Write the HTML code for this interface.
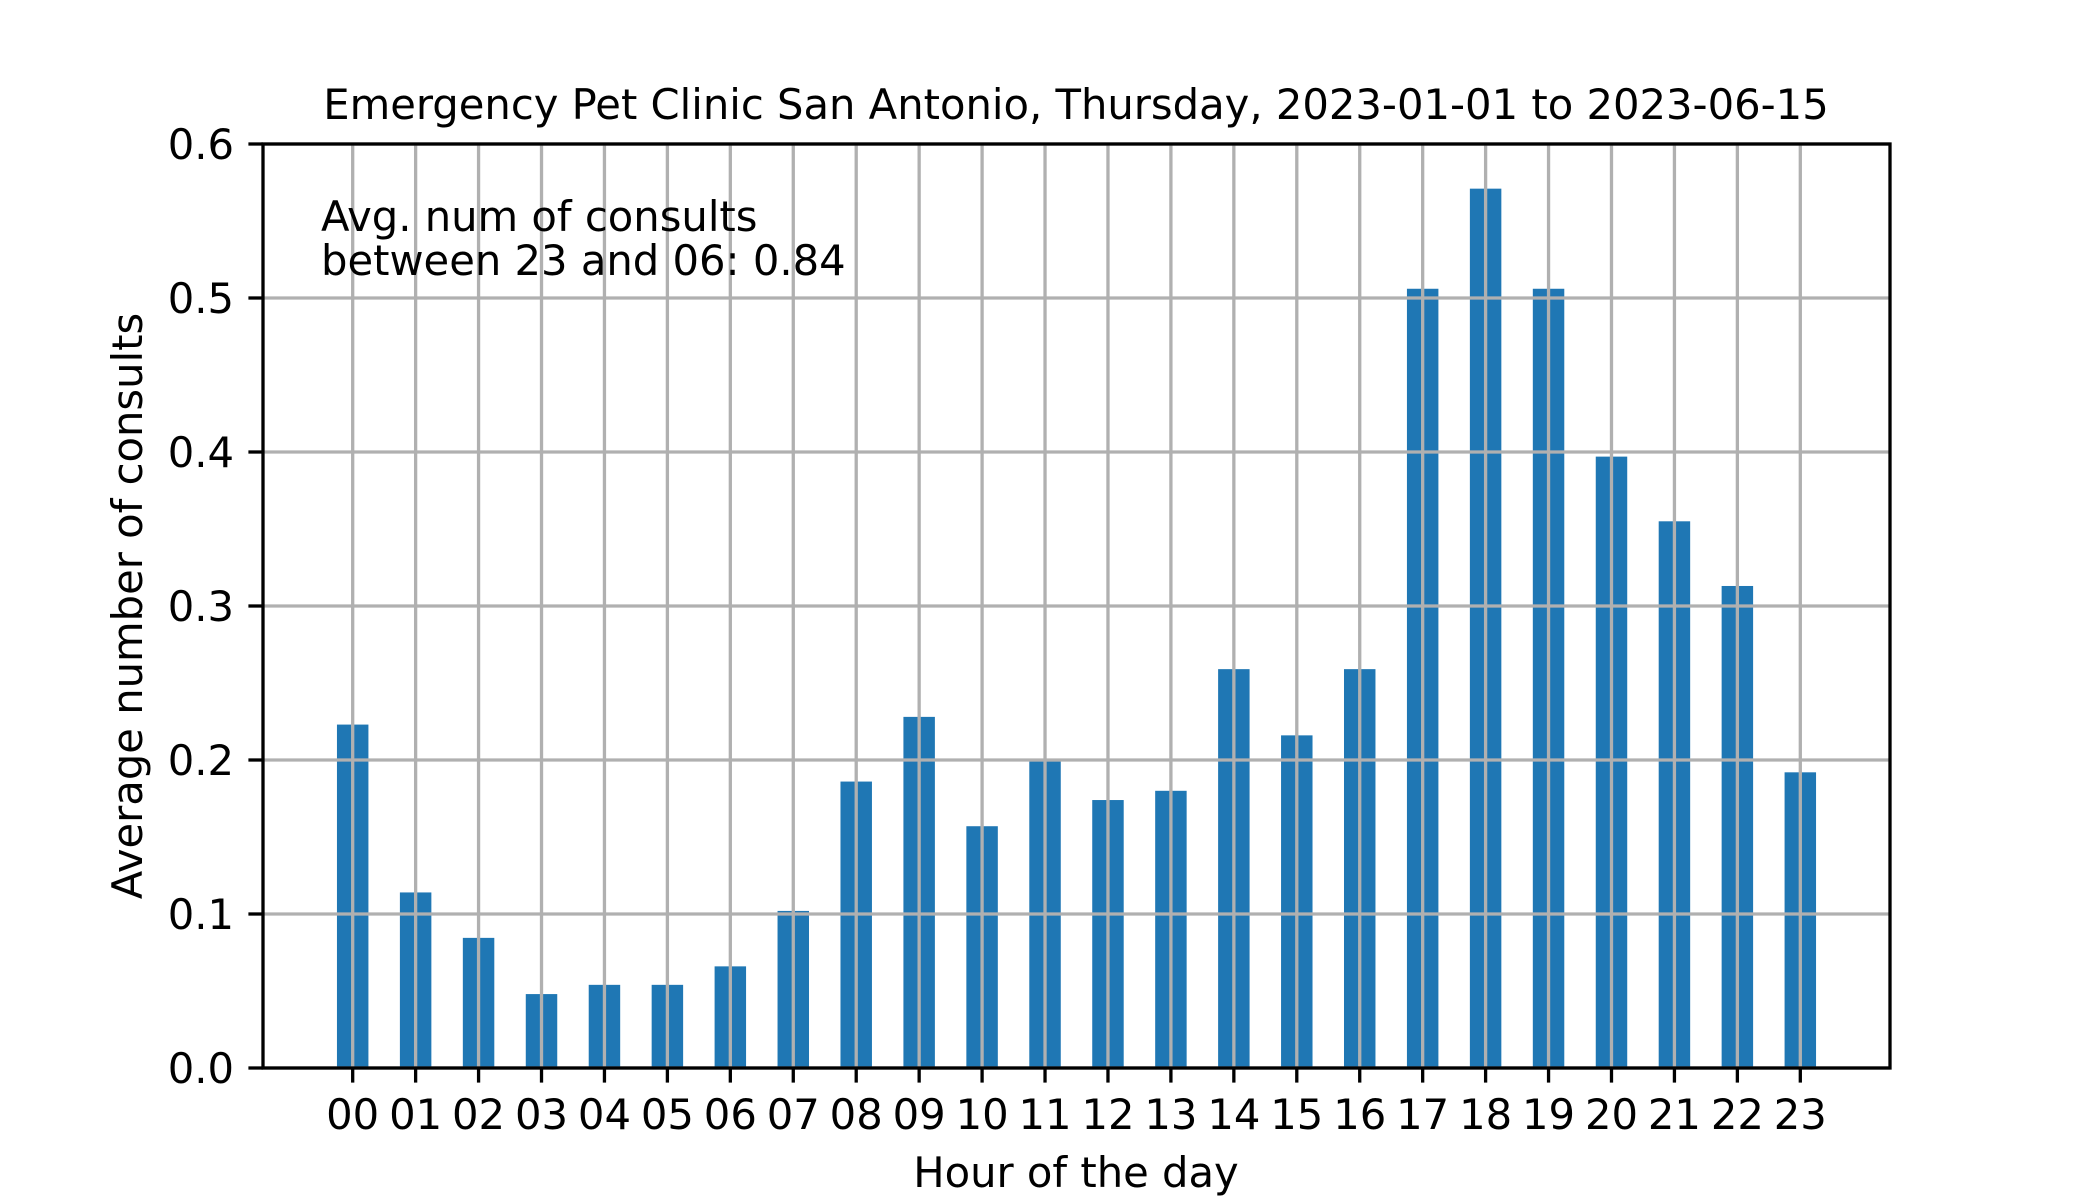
<!DOCTYPE html>
<html><head><meta charset="utf-8"><style>
html,body{margin:0;padding:0;background:#fff;}
svg{display:block;font-family:"DejaVu Sans","Liberation Sans",sans-serif;}
</style></head><body>
<svg id="chart" width="2100" height="1200" viewBox="0 0 2100 1200">
<text x="1076" y="119" font-size="41.7" text-anchor="middle">Emergency Pet Clinic San Antonio, Thursday, 2023-01-01 to 2023-06-15</text>
<g id="grid"></g>
<g id="bars"></g>
<g id="ticks"></g>
<rect x="263" y="144" width="1627" height="924" fill="none" stroke="#000" stroke-width="3.3"/>
<text x="321" y="231" font-size="41.7">Avg. num of consults</text>
<text x="321" y="275" font-size="41.7">between 23 and 06: 0.84</text>
<text x="1076" y="1187" font-size="41.7" text-anchor="middle">Hour of the day</text>
<text transform="translate(142,606) rotate(-90)" font-size="41.7" text-anchor="middle">Average number of consults</text>
</svg>
<script>
const categories=["00","01","02","03","04","05","06","07","08","09","10","11","12","13","14","15","16","17","18","19","20","21","22","23"];
const values=[0.223,0.114,0.0845,0.048,0.054,0.054,0.066,0.102,0.186,0.228,0.157,0.199,0.174,0.180,0.259,0.216,0.259,0.506,0.571,0.506,0.397,0.355,0.313,0.192];
const yTicks=[0,0.1,0.2,0.3,0.4,0.5,0.6];
const yTickLabels=["0.0","0.1","0.2","0.3","0.4","0.5","0.6"];
const NS="http://www.w3.org/2000/svg";
const L=263,R=1890,T=144,B=1068;
const xmin=-1.425,xmax=categories.length-1+1.425;
const X=i=>L+(i-xmin)/(xmax-xmin)*(R-L);
const Y=v=>B-v/0.6*(B-T);
const bw=0.5*(R-L)/(xmax-xmin);
const grid=document.getElementById('grid'),bars=document.getElementById('bars'),ticks=document.getElementById('ticks');
function mk(tag,attrs,parent){const e=document.createElementNS(NS,tag);for(const k in attrs)e.setAttribute(k,attrs[k]);parent.appendChild(e);return e;}
yTicks.forEach((v,i)=>{
  const g=mk('line',{x1:L,x2:R,y1:Y(v),y2:Y(v),stroke:'#b0b0b0','stroke-width':3.3},grid);
  
  
  const t=mk('line',{x1:L-14.6,x2:L,y1:Y(v),y2:Y(v),stroke:'#000','stroke-width':3.3},ticks);
  
  
  const l=mk('text',{x:L-29,y:Y(v)+15,'font-size':41.7,'text-anchor':'end'},ticks);
  l.textContent=yTickLabels[i];
  
  
});
categories.forEach((c,i)=>{
  const x=X(i);
  const g=mk('line',{x1:x,x2:x,y1:T,y2:B,stroke:'#b0b0b0','stroke-width':3.3},grid);
  
  
  const b=mk('rect',{x:x-bw/2,y:Y(values[i]),width:bw,height:B-Y(values[i]),fill:'#1f77b4'},bars);
  
  
  const t=mk('line',{x1:x,x2:x,y1:B,y2:B+14.6,stroke:'#000','stroke-width':3.3},ticks);
  
  
  const l=mk('text',{x:x,y:B+61,'font-size':41.7,'text-anchor':'middle'},ticks);
  l.textContent=c;
  
  
});
bars.parentNode.insertBefore(bars,grid);
</script>
</body></html>
